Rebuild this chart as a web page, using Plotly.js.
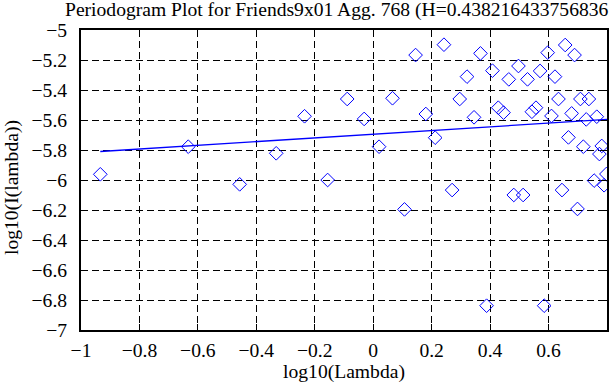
<!DOCTYPE html>
<html>
<head>
<meta charset="utf-8">
<script src="https://cdn.plot.ly/plotly-3.0.1.min.js"></script>
<style>
  html, body { margin: 0; padding: 0; background: #ffffff; }
  #chart { width: 613px; height: 385px; }
</style>
</head>
<body>
<div id="chart"></div>
<script>
// log10(Lambda) values of the periodogram points
const logLambda = [-0.934, -0.633, -0.457, -0.332, -0.235, -0.156, -0.089, -0.031, 0.020, 0.066,
  0.107, 0.145, 0.180, 0.212, 0.242, 0.270, 0.296, 0.321, 0.345, 0.367,
  0.388, 0.408, 0.428, 0.446, 0.464, 0.481, 0.497, 0.513, 0.528, 0.543,
  0.557, 0.571, 0.585, 0.597, 0.610, 0.622, 0.634, 0.646, 0.657, 0.668,
  0.679, 0.689, 0.699, 0.709, 0.719, 0.729, 0.738, 0.756, 0.765, 0.774,
  0.782, 0.790, 0.798];
// log10(I(lambda)) values
const logPower = [-5.962, -5.778, -6.029, -5.822, -5.575, -6.000, -5.460, -5.593, -5.778, -5.455,
  -6.196, -5.167, -5.560, -5.718, -5.098, -6.067, -5.460, -5.311, -5.582, -5.156,
  -6.838, -5.271, -5.518, -5.551, -5.329, -6.100, -5.240, -6.100, -5.329, -5.545,
  -5.518, -5.273, -6.838, -5.151, -5.573, -5.311, -5.460, -6.067, -5.100, -5.716,
  -5.556, -5.167, -6.193, -5.460, -5.778, -5.596, -5.460, -6.004, -5.578, -5.827,
  -5.773, -6.035, -5.960];
// least-squares fit line end points
const fitX = [-0.934, 0.8];
const fitY = [-5.810, -5.596];

const xTickVals = [-1, -0.8, -0.6, -0.4, -0.2, 0, 0.2, 0.4, 0.6, 0.8];
const yTickVals = [-7, -6.8, -6.6, -6.4, -6.2, -6, -5.8, -5.6, -5.4, -5.2, -5];

const titleText = 'Periodogram Plot for Friends9x01 Agg. 768 (H=0.438216433756836';
const xTitle = 'log10(Lambda)';
const yTitle = 'log10(I(lambda))';

const serif = 'Liberation Serif, Times New Roman, serif';
const fontSize = 19.6;

const traces = [
  {
    x: logLambda, y: logPower, type: 'scatter', mode: 'markers',
    marker: { symbol: 'diamond-open', size: 10.5, color: '#0000ff', line: { width: 1, color: '#0000ff' } },
    hoverinfo: 'none', showlegend: false
  },
  {
    x: fitX, y: fitY, type: 'scatter', mode: 'lines',
    line: { color: '#0000ff', width: 1.3 },
    hoverinfo: 'none', showlegend: false
  }
];

const axisCommon = {
  showline: true, linecolor: '#000000', linewidth: 2, mirror: 'ticks',
  ticks: 'inside', ticklen: 6, tickwidth: 1, tickcolor: '#000000',
  showgrid: true, gridcolor: '#000000', gridwidth: 1, griddash: '7px,4px',
  zeroline: false, tickfont: { family: serif, size: fontSize, color: '#000000' },
  tickmode: 'array'
};

const layout = {
  width: 613, height: 385,
  margin: { l: 81, r: 6, t: 30, b: 55, pad: 0 },
  paper_bgcolor: '#ffffff', plot_bgcolor: '#ffffff',
  font: { family: serif, size: fontSize, color: '#000000' },
  title: {
    text: titleText, xref: 'container', yref: 'container',
    x: 65 / 613, xanchor: 'left', y: 1 - 9 / 385, yanchor: 'middle',
    font: { family: serif, size: fontSize, color: '#000000' }
  },
  xaxis: Object.assign({}, axisCommon, {
    range: [-1, 0.8], tickvals: xTickVals, ticklabelstandoff: 1,
    title: { text: xTitle, standoff: 4, font: { family: serif, size: fontSize, color: '#000000' } }
  }),
  yaxis: Object.assign({}, axisCommon, {
    range: [-7, -5], tickvals: yTickVals, ticklabelstandoff: 8
  }),
  annotations: [{
    text: yTitle, textangle: -90, showarrow: false,
    xref: 'paper', yref: 'paper',
    x: (12 - 81) / 526, y: (330 - 188) / 300, xanchor: 'center', yanchor: 'middle',
    font: { family: serif, size: fontSize, color: '#000000' }
  }],
  showlegend: false
};

Plotly.newPlot('chart', traces, layout, { staticPlot: true, displayModeBar: false });
</script>
</body>
</html>
